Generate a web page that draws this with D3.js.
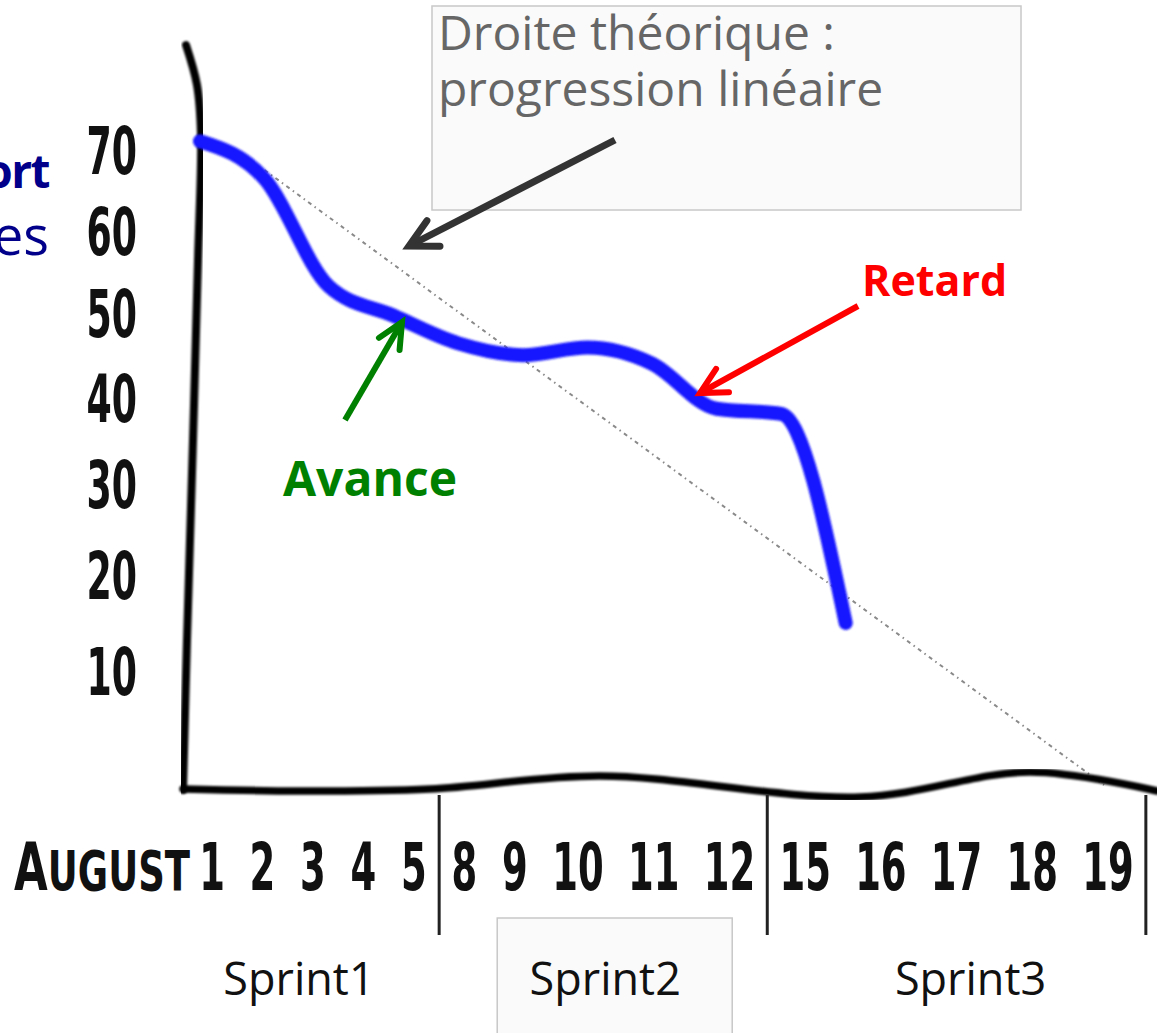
<!DOCTYPE html>
<html>
<head>
<meta charset="utf-8">
<script src="https://cdn.jsdelivr.net/npm/d3@7"></script>
<style>
body { margin: 0; background: #fff; }
svg { display: block; }
</style>
</head>
<body>
<script>
// Burndown chart - hand drawn look, sprints of August

// data
var days = ["1","2","3","4","5","8","9","10","11","12","15","16","17","18","19"];
var sprintNames = ["Sprint1","Sprint2","Sprint3"];
var sprintLastDay = ["5","12","19"];
var actualDays = ["1","2","3","4","5","8","9","10","11","12","15"];
var actualLeft = [71.1, 66.4, 53.2, 49.7, 46.4, 45.0, 45.9, 44.0, 38.7, 38.1, 14.9];
var idealDays = ["2","19"];
var idealLeft = [67.5, 0];
var yLabels = [10, 20, 30, 40, 50, 60, 70];
var yMinor = d3.range(5, 75, 5);

var W = 1157, H = 1033;
var svg = d3.select("body").append("svg")
	.attr("width", W)
	.attr("height", H);
svg.append("rect").attr("width", W).attr("height", H).attr("fill", "#fff");

var defs = svg.append("defs");
defs.append("filter").attr("id", "soft")
	.append("feGaussianBlur").attr("stdDeviation", 0.8);

// x scale of the marks : one slot per working day
var x = d3.scalePoint().domain(days).range([200, 1104]);

// the hand lettered day labels are spaced by their own width, not on the ticks
var offs = [], acc = 0;
days.forEach(function(d, i) {
	if (i > 0) acc += ((days[i-1].length + 1) + (d.length + 1)) / 2;
	offs.push(acc);
});
var offOf = {};
days.forEach(function(d, i) { offOf[d] = offs[i]; });
var labScale = d3.scaleLinear().domain([0, acc]).range([212, 1108]);
function xl(d) { return labScale(offOf[d]); }
function halfW(d) { return (labScale(d.length + 1) - labScale(0)) / 2; }

// y scale : the drawn graduations get tighter towards the top
var y = d3.scalePow().exponent(0.883).domain([0, 70]).range([785, 150]);

// wobbly axes of the drawing
var yAxisPts = [[186,45],[197,85],[201,135],[198,260],[193,440],[187,640],[183,790]];
var axisXAt = d3.scaleLinear().domain(yAxisPts.map(function(p){return p[1];}))
	.range(yAxisPts.map(function(p){return p[0];}));
var xAxisPts = [[183,789],[300,791],[430,789],[600,776],[860,797],[1030,772],[1157,791]];
var axisYAt = d3.scaleLinear().domain(xAxisPts.map(function(p){return p[0];}))
	.range(xAxisPts.map(function(p){return p[1];}));

// ideal line (droite theorique)
var ideal = idealDays.map(function(d, i) { return {day: d, v: idealLeft[i]}; });
svg.append("path")
	.datum(ideal)
	.attr("d", d3.line().x(function(d){ return x(d.day); }).y(function(d){ return y(d.v); }))
	.attr("fill", "none")
	.attr("stroke", "#8a8a8a")
	.attr("stroke-width", 2)
	.attr("stroke-dasharray", "4 4 1.5 4");

// y ticks
svg.append("g").selectAll("line")
	.data(yMinor)
	.enter().append("line")
	.attr("x1", function(d){ return axisXAt(y(d)) - 21; })
	.attr("x2", function(d){ return axisXAt(y(d)) + (d == 40 ? 11 : 1); })
	.attr("y1", function(d){ return y(d); })
	.attr("y2", function(d){ return y(d); })
	.attr("stroke", "#111")
	.attr("stroke-width", 3.5)
	.attr("filter", "url(#soft)");

// x ticks
svg.append("g").selectAll("line")
	.data(days.slice(1))
	.enter().append("line")
	.attr("x1", function(d){ return x(d); })
	.attr("x2", function(d){ return x(d); })
	.attr("y1", function(d){ return axisYAt(x(d)) - 12; })
	.attr("y2", function(d){ return axisYAt(x(d)) + 22; })
	.attr("stroke", "#111")
	.attr("stroke-width", 3.5)
	.attr("filter", "url(#soft)");

// axes lines
var axisLine = d3.line().curve(d3.curveCatmullRom);
svg.append("path").attr("d", axisLine(yAxisPts))
	.attr("fill", "none").attr("stroke", "#000").attr("stroke-width", 8)
	.attr("stroke-linecap", "round").attr("filter", "url(#soft)");
svg.append("path").attr("d", axisLine(xAxisPts))
	.attr("fill", "none").attr("stroke", "#000").attr("stroke-width", 7.5)
	.attr("stroke-linecap", "round").attr("filter", "url(#soft)");

// sprint separators
svg.append("g").selectAll("line")
	.data(sprintLastDay)
	.enter().append("line")
	.attr("x1", function(d){ return xl(d) + halfW(d); })
	.attr("x2", function(d){ return xl(d) + halfW(d); })
	.attr("y1", 795)
	.attr("y2", 935)
	.attr("stroke", "#222")
	.attr("stroke-width", 3);

// actual remaining work
var actual = actualDays.map(function(d, i) { return {day: d, v: actualLeft[i]}; });
svg.append("path")
	.datum(actual)
	.attr("d", d3.line().x(function(d){ return x(d.day); }).y(function(d){ return y(d.v); })
		.curve(d3.curveMonotoneX))
	.attr("fill", "none")
	.attr("stroke", "#1414ff")
	.attr("stroke-width", 14)
	.attr("stroke-linecap", "round")
	.attr("stroke-linejoin", "round")
	.attr("filter", "url(#soft)");

// y labels
svg.append("g").selectAll("text")
	.data(yLabels)
	.enter().append("text")
	.attr("transform", function(d){ return "translate(137," + (y(d) + 24) + ") scale(0.55,1)"; })
	.attr("text-anchor", "end")
	.attr("font-family", "DejaVu Sans")
	.attr("font-weight", "bold")
	.attr("font-size", 66)
	.attr("fill", "#111")
	.text(function(d){ return d; });

// x labels
svg.append("g").selectAll("text")
	.data(days)
	.enter().append("text")
	.attr("transform", function(d){ return "translate(" + xl(d) + ",890) scale(0.56,1)"; })
	.attr("text-anchor", "middle")
	.attr("font-family", "DejaVu Sans")
	.attr("font-weight", "bold")
	.attr("font-size", 66)
	.attr("fill", "#111")
	.text(function(d){ return d; });

var month = svg.append("text")
	.attr("transform", "translate(190,890) scale(0.66,1)")
	.attr("text-anchor", "end")
	.attr("font-family", "DejaVu Sans")
	.attr("font-weight", "bold")
	.attr("fill", "#111");
month.append("tspan").attr("font-size", 66).text("A");
month.append("tspan").attr("font-size", 56).text("UGUST");

// sprint names
var sprintBands = sprintLastDay.map(function(d, i) {
	var left = i == 0 ? xl(days[0]) - halfW(days[0]) : xl(sprintLastDay[i-1]) + halfW(sprintLastDay[i-1]);
	return {name: sprintNames[i], mid: (left + xl(d) + halfW(d)) / 2};
});
svg.append("rect")
	.attr("x", sprintBands[1].mid - 106)
	.attr("y", 918)
	.attr("width", 235)
	.attr("height", 130)
	.attr("fill", "#fafafa")
	.attr("stroke", "#c8c8c8")
	.attr("stroke-width", 1.5);
svg.append("g").selectAll("text")
	.data(sprintBands)
	.enter().append("text")
	.attr("x", function(d, i){ return d.mid + (i == 0 ? -14 : i == 2 ? 14 : 2); })
	.attr("y", 995)
	.attr("text-anchor", "middle")
	.attr("font-family", "'Open Sans', 'Noto Sans', sans-serif")
	.attr("font-size", 45)
	.attr("fill", "#111")
	.text(function(d){ return d.name; });

// left title (cut by the frame)
svg.append("text")
	.attr("x", 49).attr("y", 188)
	.attr("text-anchor", "end")
	.attr("font-family", "'Open Sans', 'Noto Sans', sans-serif")
	.attr("font-weight", "bold")
	.attr("font-size", 46)
	.attr("letter-spacing", -1.5)
	.attr("fill", "#00008b")
	.text("Effort");
svg.append("text")
	.attr("x", 49).attr("y", 255)
	.attr("text-anchor", "end")
	.attr("font-family", "'Open Sans', 'Noto Sans', sans-serif")
	.attr("font-size", 54)
	.attr("fill", "#00008b")
	.text("Heures");

// note box
svg.append("rect")
	.attr("x", 432).attr("y", 6)
	.attr("width", 589).attr("height", 204)
	.attr("fill", "#fafafa")
	.attr("stroke", "#c8c8c8")
	.attr("stroke-width", 1.5);
var note = svg.append("text")
	.attr("font-family", "'Open Sans', 'Noto Sans', sans-serif")
	.attr("font-size", 48)
	.attr("fill", "#666");
note.append("tspan").attr("x", 438).attr("y", 50).text("Droite théorique :");
note.append("tspan").attr("x", 438).attr("y", 106).text("progression linéaire");

// arrows
function arrow(x1, y1, x2, y2, color, w, len, ang) {
	var a = Math.atan2(y1 - y2, x1 - x2);
	var g = svg.append("g").attr("stroke", color).attr("stroke-width", w).attr("fill", "none");
	g.append("line").attr("x1", x1).attr("y1", y1).attr("x2", x2).attr("y2", y2);
	g.append("path")
		.attr("d", "M" + (x2 + len * Math.cos(a + ang)) + "," + (y2 + len * Math.sin(a + ang)) +
			"L" + x2 + "," + y2 +
			"L" + (x2 + len * Math.cos(a - ang)) + "," + (y2 + len * Math.sin(a - ang)))
		.attr("stroke-linecap", "round")
		.attr("stroke-linejoin", "miter");
}
arrow(615, 140, 409, 246, "#333", 7, 31, 0.48);
arrow(858, 306, 700, 393, "#ff0000", 6, 29, 0.48);
arrow(345, 420, 402, 322, "#008000", 6, 28, 0.44);

svg.append("text")
	.attr("x", 862).attr("y", 296)
	.attr("font-family", "'Open Sans', 'Noto Sans', sans-serif")
	.attr("font-weight", "bold")
	.attr("font-size", 43)
	.attr("fill", "#ff0000")
	.text("Retard");
svg.append("text")
	.attr("x", 283).attr("y", 496)
	.attr("font-family", "'Open Sans', 'Noto Sans', sans-serif")
	.attr("font-weight", "bold")
	.attr("font-size", 48)
	.attr("fill", "#008000")
	.text("Avance");
</script>
</body>
</html>
